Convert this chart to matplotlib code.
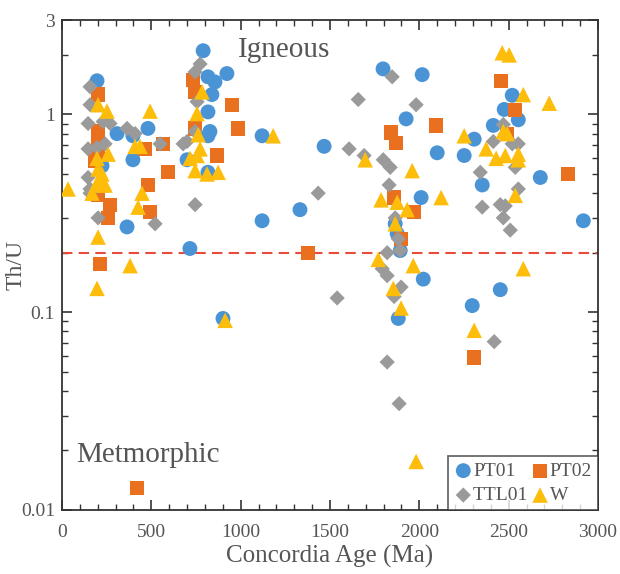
import matplotlib
matplotlib.use('Agg')
import matplotlib.pyplot as plt
import numpy as np

plt.rcParams['font.family'] = ['Liberation Serif', 'DejaVu Serif']

# PT01 (blue circles)
pt01_age = [196, 308, 397, 481, 397, 224, 364, 716, 790, 817, 856, 923, 839, 817, 828, 817,
            700, 817, 1120, 1120, 1332, 901,
            1797, 2016, 1926, 1467, 2100, 2251, 2307, 2352, 2010, 2677, 2918, 2414, 2475,
            2520, 2554, 1865, 1876, 1893, 2022, 1882, 2453, 2296]
pt01_thu = [1.48, 0.80, 0.78, 0.85, 0.59, 0.55, 0.27, 0.21, 2.10, 1.55, 1.46, 1.61, 1.26, 1.03, 0.82, 0.78,
            0.59, 0.51, 0.78, 0.29, 0.33, 0.093,
            1.70, 1.59, 0.95, 0.69, 0.64, 0.62, 0.75, 0.44, 0.38, 0.48, 0.29, 0.88, 1.06,
            1.25, 0.94, 0.28, 0.25, 0.205, 0.147, 0.093, 0.13, 0.108]

# PT02 (orange squares)
pt02_age = [202, 202, 202, 185, 202, 202, 269, 258, 482, 493, 465, 566, 594, 868, 734, 745,
            745, 952, 986, 213, 1378, 420,
            1842, 1870, 2094, 1859, 1971, 1898, 2458, 2537, 2492, 2834, 2307]
pt02_thu = [1.26, 0.82, 0.76, 0.58, 0.63, 0.39, 0.35, 0.30, 0.44, 0.32, 0.67, 0.71, 0.51, 0.62, 1.50, 1.30,
            0.85, 1.12, 0.85, 0.176, 0.20, 0.0129,
            0.81, 0.72, 0.88, 0.38, 0.32, 0.235, 1.48, 1.05, 0.80, 0.50, 0.059]

# TTL01 (grey diamonds)
ttl01_age = [157, 157, 146, 230, 269, 364, 409, 146, 196, 241, 146, 157, 157, 202, 521, 549,
             678, 773, 745, 756, 745, 700, 745,
             1848, 1658, 1982, 1607, 1691, 1798, 1837, 1831, 1434, 1865, 1882, 1820, 1893,
             1792, 1820, 1898, 1859, 1540, 1820, 1887, 2341, 2352, 2453, 2481, 2470, 2509,
             2470, 2414, 2520, 2554, 2537, 2554, 2419]
ttl01_thu = [1.38, 1.12, 0.90, 0.92, 0.90, 0.85, 0.80, 0.67, 0.68, 0.71, 0.48, 0.42, 0.40, 0.30, 0.28, 0.71,
             0.71, 1.80, 1.64, 1.16, 0.82, 0.73, 0.35,
             1.55, 1.19, 1.12, 0.67, 0.62, 0.59, 0.54, 0.44, 0.40, 0.30, 0.235, 0.20, 0.205,
             0.166, 0.153, 0.134, 0.12, 0.118, 0.056, 0.0345, 0.51, 0.34, 0.35, 0.345, 0.30, 0.26,
             0.89, 0.73, 0.71, 0.71, 0.54, 0.42, 0.071]

# W (yellow triangles)
w_age = [34, 202, 252, 493, 196, 258, 202, 224, 196, 224, 168, 241, 437, 409, 448, 426,
         202, 381, 196, 913, 784, 756, 762, 756, 773, 717, 745, 812, 874, 1182,
         2464, 2503, 2582, 2727, 2251, 2374, 2430, 2481, 2554, 2554, 2470, 2492, 1697, 1960,
         1786, 1876, 1932, 2122, 1865, 1770, 1966, 1854, 1898, 1982, 2582, 2307, 2537]
w_thu = [0.42, 1.12, 1.04, 1.04, 0.60, 0.63, 0.53, 0.50, 0.45, 0.44, 0.40, 0.44, 0.69, 0.69, 0.40, 0.34,
         0.24, 0.172, 0.132, 0.091, 1.30, 1.01, 0.79, 0.62, 0.67, 0.60, 0.52, 0.50, 0.51, 0.78,
         2.05, 2.00, 1.26, 1.14, 0.78, 0.67, 0.60, 0.62, 0.63, 0.59, 0.82, 0.80, 0.59, 0.52,
         0.37, 0.36, 0.33, 0.38, 0.28, 0.185, 0.172, 0.132, 0.105, 0.0176, 0.166, 0.081, 0.39]

threshold = 0.2

c_blue = '#4a94d6'
c_orange = '#e8701e'
c_grey = '#9a9a9a'
c_yellow = '#fdbd0a'
txt = '#555555'

fig = plt.figure(figsize=(6.2, 5.74), dpi=100)
ax = fig.add_axes([0.1, 0.1115, 0.8645, 0.8535])

h1 = ax.scatter(pt01_age, pt01_thu, s=115, marker='o', color=c_blue, edgecolors='none', label='PT01', zorder=3)
h2 = ax.scatter(pt02_age, pt02_thu, s=105, marker='s', color=c_orange, edgecolors='none', label='PT02', zorder=3)
h3 = ax.scatter(ttl01_age, ttl01_thu, s=60, marker='D', color=c_grey, edgecolors='none', label='TTL01', zorder=3)
h4 = ax.scatter(w_age, w_thu, s=125, marker='^', color=c_yellow, edgecolors='none', label='W', zorder=3)

ax.axhline(threshold, color='#e84a3c', lw=1.5, ls=(0, (5, 3)), zorder=2)

ax.set_yscale('log')
ax.set_xlim(0, 3000)
ax.set_ylim(0.01, 3)
ax.set_xticks([0, 500, 1000, 1500, 2000, 2500, 3000])
ax.set_xticks(np.arange(0, 3001, 100), minor=True)
ax.set_yticks([0.01, 0.1, 1, 3])
ax.set_yticklabels(['0.01', '0.1', '1', '3'])

ax.tick_params(which='both', direction='in', top=True, right=True, colors='#333333',
               labelcolor=txt, labelsize=14)
ax.tick_params(axis='x', which='major', pad=10)
ax.tick_params(axis='y', which='major', pad=5)
ax.tick_params(which='major', length=7, width=1.2)
ax.tick_params(which='minor', length=4, width=1.0)
for s in ax.spines.values():
    s.set_color('#333333')
    s.set_linewidth(1.3)

ax.set_xlabel('Concordia Age (Ma)', fontsize=18, color=txt, labelpad=3)
ax.set_ylabel('Th/U', fontsize=17, color=txt)
ax.yaxis.set_label_coords(-0.066, 0.5)

ax.text(1243, 2.12, 'Igneous', fontsize=21, color=txt, ha='center', va='center')
ax.text(482, 0.0189, 'Metmorphic', fontsize=21, color=txt, ha='center', va='center')

# column-wise fill: PT01/TTL01 in first column, PT02/W in second
leg = ax.legend([h1, h3, h2, h4], ['PT01', 'TTL01', 'PT02', 'W'], loc='lower right', ncol=2,
                fontsize=14, frameon=True, fancybox=False, borderaxespad=0, columnspacing=0.1,
                handletextpad=0.0, handlelength=1.0, borderpad=0.3, labelspacing=0.35)
leg.get_frame().set_edgecolor('#333333')
leg.get_frame().set_linewidth(1.2)
for t in leg.get_texts():
    t.set_color(txt)

fig.savefig('out.png', dpi=100)
